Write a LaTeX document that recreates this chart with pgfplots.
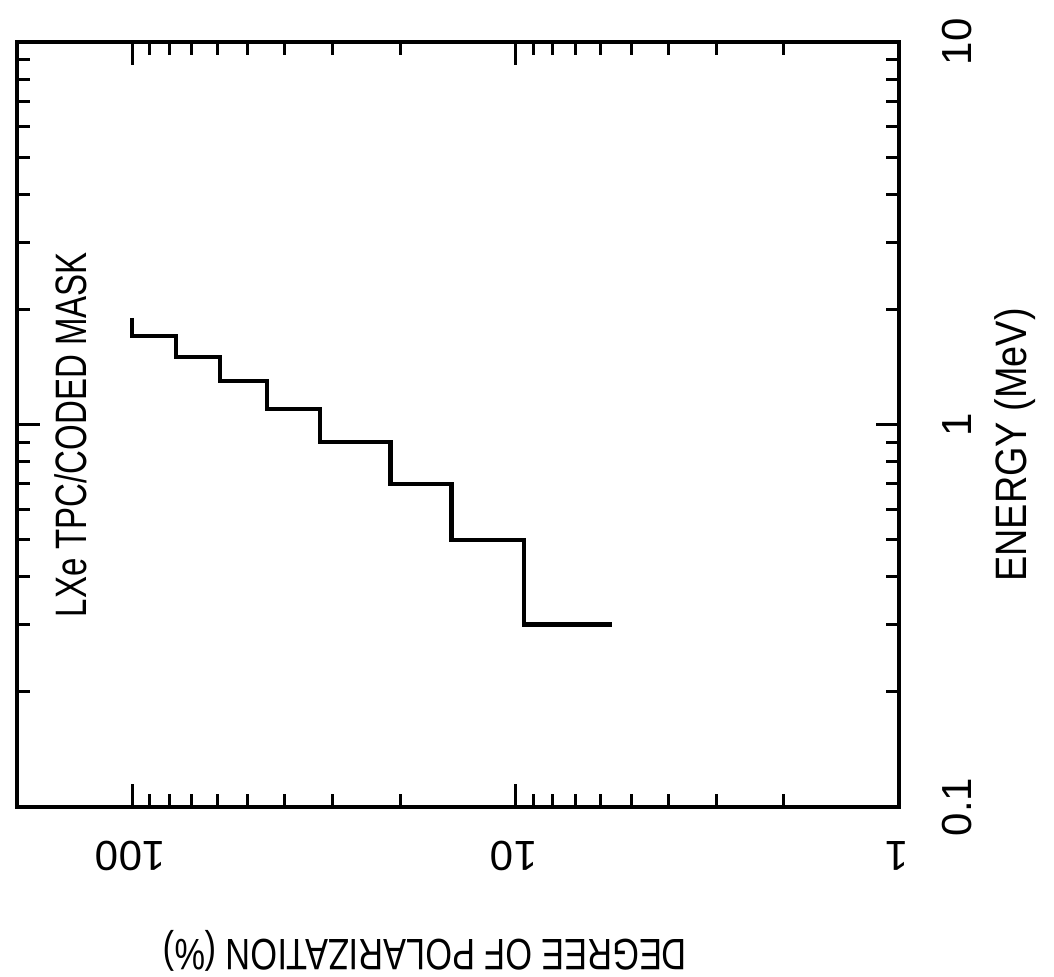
\documentclass[border=0pt]{standalone}
\usepackage{fontspec}
\setmainfont{Liberation Sans}
\usepackage{graphicx}
\usepackage{pgfplots}
\pgfplotsset{compat=1.18}
\begin{document}
\begin{tikzpicture}
\begin{axis}[
  at={(0,0)}, anchor=south west,
  scale only axis,
  width=441pt, height=382.5pt,
  xmode=log, ymode=log,
  x dir=reverse,
  xmin=1, xmax=200, ymin=0.1, ymax=10,
  xtick={1,10,100},
  xticklabels={\rotatebox{180}{1},\rotatebox{180}{10},\rotatebox{180}{100}},
  minor xtick={2,3,4,5,6,7,8,9,20,30,40,50,60,70,80,90},
  ytick={0.1,1,10},
  yticklabels={\rotatebox{90}{0.1},\rotatebox{90}{1},\rotatebox{90}{10}},
  minor ytick={0.2,0.3,0.4,0.5,0.6,0.7,0.8,0.9,2,3,4,5,6,7,8,9},
  tick align=inside,
  xtick pos=both, ytick pos=both,
  xticklabel pos=left, yticklabel pos=right,
  major tick length=11.5pt, minor tick length=6.5pt,
  tick style={black, line width=1.5pt},
  axis line style={black, line width=1.6pt},
  ticklabel style={font=\fontsize{21}{24}\selectfont},
  xticklabel style={anchor=center, yshift=-24.5pt, xshift=-1pt},
  yticklabel style={anchor=center, xshift=29pt},
]
\addplot[black, line width=2.1pt, mark=none, line join=miter] coordinates {
  (100,1.9) (100,1.7) (77,1.7) (77,1.5) (59,1.5) (59,1.3)
  (44.5,1.3) (44.5,1.1) (32.4,1.1) (32.4,0.9) (21.2,0.9) (21.2,0.7)
  (14.7,0.7) (14.7,0.5) (9.5,0.5) (9.5,0.3) (5.6,0.3)
};
\node[font=\fontsize{22}{26}\selectfont, inner sep=0pt] at (axis cs:145,0.94)
  {\rotatebox{90}{\scalebox{0.75}[1]{LXe TPC/CODED MASK}}};
\coordinate (LL) at (axis cs:200,0.1);
\end{axis}
\node[font=\fontsize{22}{26}\selectfont, inner sep=0pt] at ([shift={(204pt,-72pt)}]LL)
  {\rotatebox{180}{\scalebox{0.78}[1]{DEGREE OF POLARIZATION (\%)}}};
\node[font=\fontsize{22}{26}\selectfont, inner sep=0pt] at ([shift={(499pt,181pt)}]LL)
  {\rotatebox{90}{\scalebox{0.86}[1]{ENERGY (MeV)}}};
\pgfresetboundingbox
\useasboundingbox ([shift={(-8.5pt,-84.5pt)}]LL) rectangle ++(527pt,488pt);
\end{tikzpicture}
\end{document}
